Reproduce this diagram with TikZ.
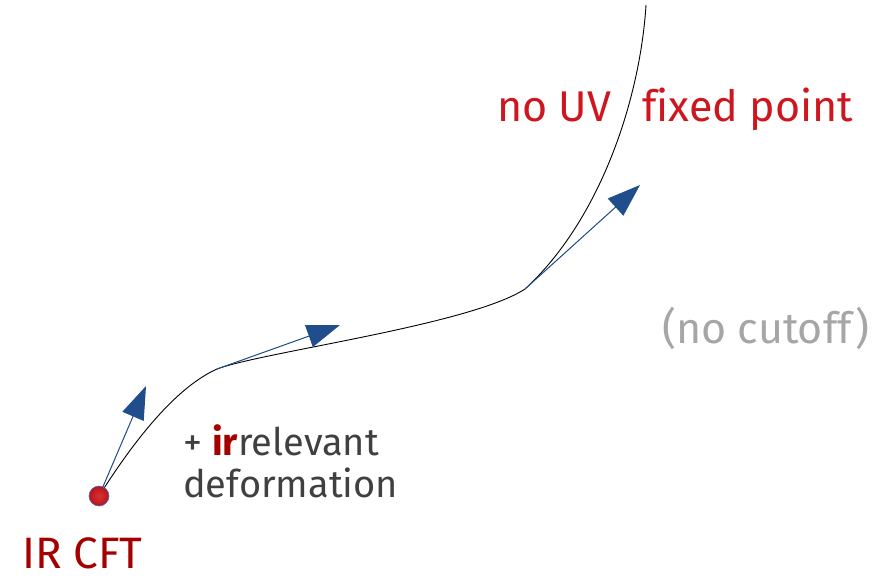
\documentclass[tikz,border=0pt]{standalone}
\usepackage{fontspec}
\setmainfont{Fira Sans}[Ligatures=NoCommon]
\usetikzlibrary{arrows.meta}
\definecolor{flowblue}{RGB}{32,78,140}
\definecolor{edgeblue}{RGB}{68,114,196}
\definecolor{labred}{RGB}{205,22,30}
\definecolor{darkred}{RGB}{165,0,0}
\definecolor{dotred}{RGB}{215,25,30}
\definecolor{txtgray}{RGB}{64,64,64}
\definecolor{lightgray}{RGB}{166,166,166}
\tikzset{
  flow/.style={draw=black, line width=0.9pt},
  vec/.style={draw=flowblue, line width=1pt, -{Triangle[length=33pt,width=23pt]}, fill=flowblue},
  lab/.style={inner sep=0pt, anchor=base west},
  biglab/.style={lab, font=\fontsize{43}{48}\selectfont},
  midlab/.style={lab, font=\fontsize{38}{44}\selectfont},
}
\begin{document}
\begin{tikzpicture}[x=1pt,y=-1pt]
\useasboundingbox (0,0) rectangle (874,578);
\coordinate (ir) at (99,496);
\coordinate (p1) at (217,369);
\coordinate (p2) at (525,289);
\coordinate (top) at (646,5);
\coordinate (t1) at (146,386);
\coordinate (t2) at (340,325);
\coordinate (t3) at (640,185);
\draw[flow] (ir) .. controls (125,455) and (170,390) .. (p1)
  .. controls (262,352) and (470,325) .. (p2)
  .. controls (600,220) and (640,100) .. (top);
\draw[vec] (ir) -- (t1);
\draw[vec] (p1) -- (t2);
\draw[vec] (p2) -- (t3);
\shade[inner color=dotred!90!white, outer color=dotred!85!black, draw=edgeblue, line width=0.6pt] (ir) circle (10);
\node[lab, text=darkred, font=\fontsize{44}{50}\selectfont] (irlab) at (22,568) {IR CFT};
\node[biglab, text=labred] (nouv) at (497,121) {no UV};
\node[biglab, text=labred] (fixed) at (642,121) {fixed point};
\node[biglab, text=lightgray] (cut) at (662,343) {(no cutoff)};
\node[midlab, text=txtgray] (irr) at (183,455) {+ \textcolor{darkred}{\textbf{ir}}relevant};
\node[midlab, text=txtgray] (def) at (183,497) {deformation};
\end{tikzpicture}
\end{document}
